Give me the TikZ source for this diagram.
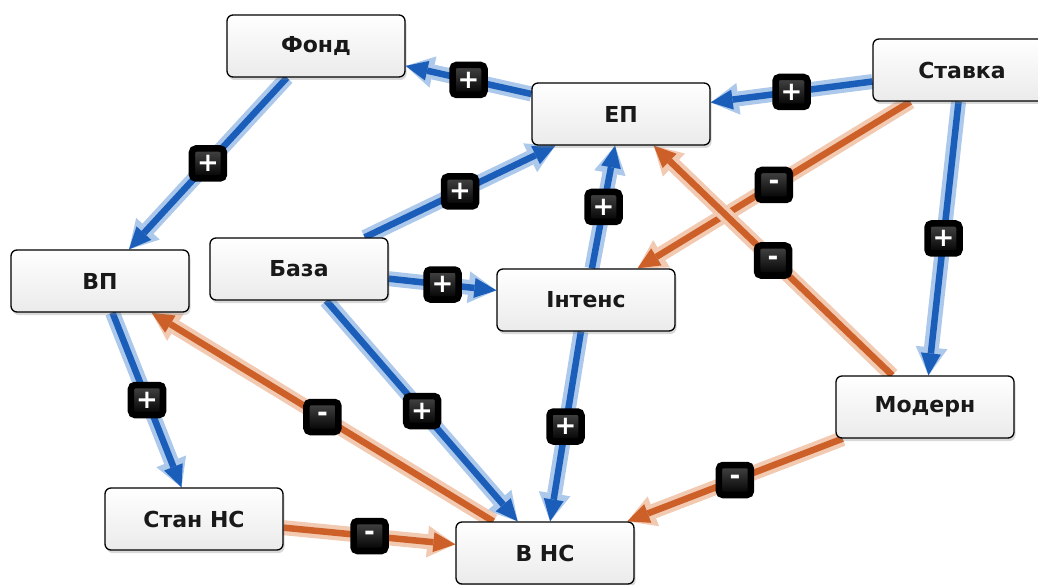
\documentclass[tikz,border=0pt]{standalone}
\usepackage{fontspec}
\setmainfont{DejaVu Sans}
\usetikzlibrary{arrows.meta, shadows, backgrounds}

\definecolor{posblue}{RGB}{26,94,186}
\definecolor{poshalo}{RGB}{172,200,234}
\definecolor{negorange}{RGB}{204,96,40}
\definecolor{neghalo}{RGB}{242,202,178}

\begin{document}
\begin{tikzpicture}[x=1pt, y=-1pt,
  factor/.style={rectangle, draw=black, line width=1.3pt, rounded corners=6pt, minimum width=178pt, minimum height=62pt, top color=white, bottom color=gray!16, drop shadow={shadow xshift=1.5pt, shadow yshift=-3pt, opacity=0.3}, font=\fontsize{22}{26}\selectfont\bfseries, text=black!90},
  sign/.style={rectangle, draw=black, rounded corners=4pt, top color=gray!55!black, bottom color=black, text=white, minimum width=32pt, minimum height=30pt, inner sep=0pt, font=\fontsize{26}{26}\selectfont\bfseries},
  posarr/.style={draw=posblue, line width=6.5pt, -{Triangle[length=22pt, width=20pt, line width=0pt]}, preaction={draw=poshalo, line width=15pt, -{Triangle[length=28pt, width=32pt, line width=0pt]}}},
  negarr/.style={draw=negorange, line width=6.5pt, -{Triangle[length=22pt, width=20pt, line width=0pt]}, preaction={draw=neghalo, line width=15pt, -{Triangle[length=28pt, width=32pt, line width=0pt]}}}
]
\useasboundingbox (0,0) rectangle (1038,585);

% Factors
\node[factor] (fond)   at (316,46)  {Фонд};
\node[factor] (ep)     at (621,114) {ЕП};
\node[factor] (stavka) at (962,70)  {Ставка};
\node[factor] (vp)     at (100,281) {ВП};
\node[factor] (baza)   at (299,269) {База};
\node[factor] (intens) at (586,300) {Інтенс};
\node[factor] (modern) at (925,407) {Модерн};
\node[factor] (stan)   at (194,519) {Стан НС};
\node[factor] (vns)    at (545,553) {В НС};

\begin{scope}[on background layer]
% Positive links
\draw[posarr] (ep)     -- node[sign] {+} (fond);
\draw[posarr] (stavka) -- node[sign] {+} (ep);
\draw[posarr] (fond)   -- node[sign] {+} (vp);
\draw[posarr] (baza)   -- node[sign] {+} (ep);
\draw[posarr] (intens) -- node[sign] {+} (ep);
\draw[posarr] (stavka) -- node[sign] {+} (modern);
\draw[posarr] (baza)   -- node[sign] {+} (intens);
\draw[posarr] (vp)     -- node[sign] {+} (stan);
\draw[posarr] (baza)   -- node[sign] {+} (vns);
\draw[posarr] (intens) -- node[sign] {+} (vns);
% Negative links
\draw[negarr] (stavka) -- node[sign] {-} (intens);
\draw[negarr] (modern) -- node[sign] {-} (ep);
\draw[negarr] (vns)    -- node[sign] {-} (vp);
\draw[negarr] (modern) -- node[sign] {-} (vns);
\draw[negarr] (stan)   -- node[sign] {-} (vns);
\end{scope}

\end{tikzpicture}
\end{document}
